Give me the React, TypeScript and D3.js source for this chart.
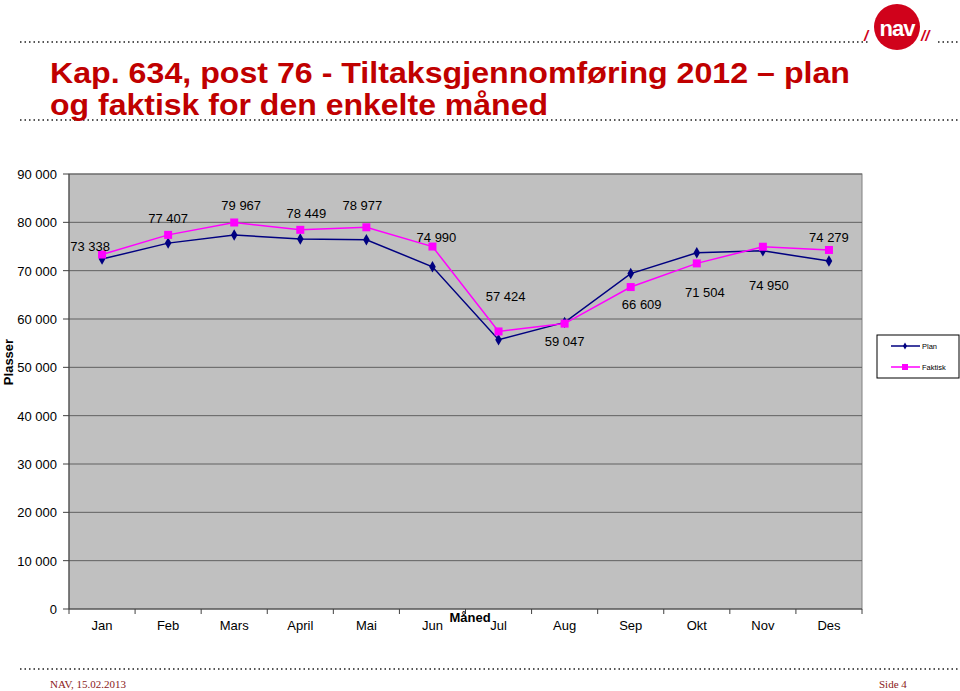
import React from "react";
import * as d3 from "d3";

const months = ["Jan", "Feb", "Mars", "April", "Mai", "Jun", "Jul", "Aug", "Sep", "Okt", "Nov", "Des"];
const plan = [72400, 75700, 77400, 76550, 76400, 70800, 55700, 59300, 69400, 73700, 74100, 72000];
const faktisk = [73338, 77407, 79967, 78449, 78977, 74990, 57424, 59047, 66609, 71504, 74950, 74279];
const yTicks = [0, 10000, 20000, 30000, 40000, 50000, 60000, 70000, 80000, 90000];
// label offsets (dx, dy) relative to the Faktisk point
const labelOffsets: [number, number][] = [
  [-12, -4], [0, -12], [7, -12], [6, -12], [-4, -17], [4, -5], [7, -30], [0, 22], [11, 22], [8, 34], [6, 43], [0, -8],
];

const W = 960, H = 691;
const M = { left: 69, right: 862, top: 174, bottom: 609 };

const fmt = (v: number) => d3.format(",")(v).replace(/,/g, " ");

export default function App() {
  const x = d3.scaleBand<string>().domain(months).range([M.left, M.right]);
  const y = d3.scaleLinear().domain([0, 90000]).range([M.bottom, M.top]);
  const cx = (m: string) => (x(m) as number) + x.bandwidth() / 2;
  const line = d3.line<number>().x((_, i) => cx(months[i])).y((d) => y(d));
  const red = "#c00000";
  const dotted = (y0: number, x0: number, x1: number) => (
    <line x1={x0} x2={x1} y1={y0} y2={y0} stroke="#555" strokeWidth={2} strokeDasharray="1.5 3" />
  );
  const diamond = d3.symbol().type(d3.symbolDiamond).size(38)();
  return (
    <svg width={W} height={H} style={{ position: "absolute", left: 0, top: 0, background: "#fff" }} fontFamily="Arial, 'Liberation Sans', sans-serif">
      {dotted(42, 20, 868)}
      {dotted(42, 938, 960)}
      {dotted(120, 20, 960)}
      {dotted(669, 20, 960)}
      {/* logo */}
      <circle cx={897} cy={27} r={23} fill="#d0021b" />
      <text x={897} y={36} textAnchor="middle" fill="#fff" fontWeight="bold" fontSize={22} fontFamily="Arial, sans-serif" letterSpacing={-1}>nav</text>
      <text x={864} y={41} fill="#d0021b" fontWeight="bold" fontSize={15} fontStyle="italic">/</text>
      <text x={921} y={41} fill="#d0021b" fontWeight="bold" fontSize={15} fontStyle="italic">//</text>
      {/* title */}
      <text x={50} y={83} fill={red} fontWeight="bold" fontSize={29} fontFamily="'Liberation Sans Narrow', 'Arial Narrow', Arial, sans-serif" textLength={800} lengthAdjust="spacingAndGlyphs">Kap. 634, post 76 - Tiltaksgjennomføring 2012 – plan</text>
      <text x={50} y={115} fill={red} fontWeight="bold" fontSize={29} fontFamily="'Liberation Sans Narrow', 'Arial Narrow', Arial, sans-serif" textLength={498} lengthAdjust="spacingAndGlyphs">og faktisk for den enkelte måned</text>
      {/* plot */}
      <rect x={M.left} y={M.top} width={M.right - M.left} height={M.bottom - M.top} fill="#c0c0c0" stroke="#808080" />
      {yTicks.map((t) => (
        <g key={t}>
          {t > 0 && <line x1={M.left} x2={M.right} y1={y(t)} y2={y(t)} stroke="#606060" strokeWidth={1} />}
          <line x1={M.left - 6} x2={M.left} y1={y(t)} y2={y(t)} stroke="#404040" />
          <text x={57} y={y(t) + 5} textAnchor="end" fontSize={13} fill="#000">{fmt(t)}</text>
        </g>
      ))}
      <line x1={M.left} x2={M.left} y1={M.top} y2={M.bottom} stroke="#404040" />
      <line x1={M.left} x2={M.right} y1={M.bottom} y2={M.bottom} stroke="#404040" />
      {months.map((m, i) => (
        <g key={m}>
          <line x1={x(m) as number} x2={x(m) as number} y1={M.bottom} y2={M.bottom + 5} stroke="#404040" />
          {i === months.length - 1 && <line x1={M.right} x2={M.right} y1={M.bottom} y2={M.bottom + 5} stroke="#404040" />}
          <text x={cx(m)} y={630} textAnchor="middle" fontSize={13} fill="#000">{m}</text>
        </g>
      ))}
      <text x={470} y={622} textAnchor="middle" fontSize={13} fontWeight="bold">Måned</text>
      <text transform="translate(13,362) rotate(-90)" textAnchor="middle" fontSize={13} fontWeight="bold">Plasser</text>
      {/* lines */}
      <path d={line(plan) ?? ""} fill="none" stroke="#000080" strokeWidth={1.5} />
      <path d={line(faktisk) ?? ""} fill="none" stroke="#ff00ff" strokeWidth={1.5} />
      {plan.map((v, i) => (
        <path key={"p" + i} d={diamond ?? ""} transform={`translate(${cx(months[i])},${y(v)})`} fill="#000080" />
      ))}
      {faktisk.map((v, i) => (
        <rect key={"f" + i} x={cx(months[i]) - 4} y={y(v) - 4} width={8} height={8} fill="#ff00ff" />
      ))}
      {faktisk.map((v, i) => (
        <text key={"l" + i} x={cx(months[i]) + labelOffsets[i][0]} y={y(v) + labelOffsets[i][1]} textAnchor="middle" fontSize={13} fill="#000">{fmt(v)}</text>
      ))}
      {/* legend */}
      <rect x={877} y={335} width={82} height={43} fill="#fff" stroke="#000" strokeWidth={1} />
      <line x1={891} x2={920} y1={346} y2={346} stroke="#000080" strokeWidth={1.5} />
      <path d={d3.symbol().type(d3.symbolDiamond).size(14)() ?? ""} transform="translate(905,346)" fill="#000080" />
      <text x={922} y={349} fontSize={7.5}>Plan</text>
      <line x1={891} x2={920} y1={367} y2={367} stroke="#ff00ff" strokeWidth={1.5} />
      <rect x={902} y={364} width={6} height={6} fill="#ff00ff" />
      <text x={922} y={370} fontSize={7.5}>Faktisk</text>
      {/* footer */}
      <text x={50} y={688} fill="#8b1a1a" fontSize={11} fontFamily="'Liberation Serif', 'Times New Roman', serif">NAV, 15.02.2013</text>
      <text x={879} y={688} fill="#8b1a1a" fontSize={11} fontFamily="'Liberation Serif', 'Times New Roman', serif">Side 4</text>
    </svg>
  );
}
